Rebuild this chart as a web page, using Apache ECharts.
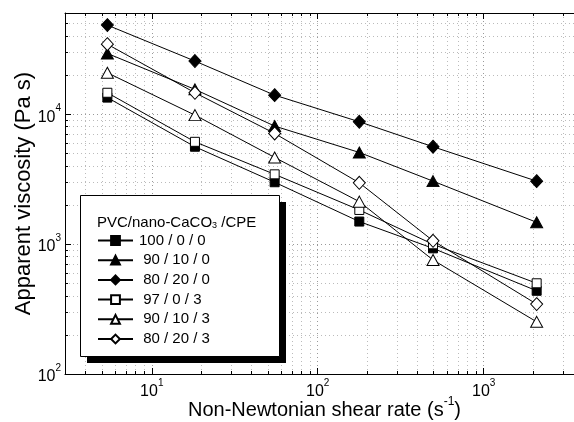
<!DOCTYPE html>
<html>
<head>
<meta charset="utf-8">
<script src="https://cdn.jsdelivr.net/npm/echarts@6/dist/echarts.min.js"></script>
<style>
  html, body { margin: 0; padding: 0; background: #fff; }
  #chart { width: 574px; height: 422px; }
</style>
</head>
<body>
<div id="chart"></div>
<script>
// shear rates (s^-1)
const shearRates = [5.4, 18.2, 55, 178, 495, 2085]
// apparent viscosity (Pa s)
const v100_0_0 = [13400, 5610, 2990, 1490, 927, 437]
const v90_10_0 = [29300, 15500, 8090, 5070, 3050, 1470]
const v80_20_0 = [48400, 25600, 14000, 8730, 5610, 3050]
const v97_0_3 = [14600, 6120, 3440, 1830, 996, 499]
const v90_10_3 = [20800, 9820, 4640, 2120, 754, 252]
const v80_20_3 = [34500, 14600, 7100, 2960, 1060, 345]
const seriesNames = ['100 / 0 / 0', ' 90 / 10 / 0', ' 80 / 20 / 0', ' 97 / 0 / 3', ' 90 / 10 / 3', ' 80 / 20 / 3']
const legendTitle = '{a|PVC/nano-CaCO}{s|3}{a| /CPE}'
// tick values
const xMajor = [10, 100, 1000]
const xMinor = [4, 5, 6, 7, 8, 9, 20, 30, 40, 50, 60, 70, 80, 90, 200, 300, 400, 500, 600, 700, 800, 900, 2000, 3000]
const yMajor = [100, 1000, 10000]
const yMinor = [200, 300, 400, 500, 600, 700, 800, 900, 2000, 3000, 4000, 5000, 6000, 7000, 8000, 9000, 20000, 30000, 40000, 50000]

const FONT = 'Liberation Sans, Arial, sans-serif'
const chart = echarts.init(document.getElementById('chart'))

const supLabel = (value) => '{b|10}{s|' + Math.round(Math.log10(value)) + '}'
const supRich = {
  b: { fontSize: 16, fontFamily: FONT, color: '#000', lineHeight: 22, verticalAlign: 'bottom' },
  s: { fontSize: 10, fontFamily: FONT, color: '#000', lineHeight: 10, verticalAlign: 'top' }
}
const majorGrid = { show: true, lineStyle: { color: '#999', type: [1, 3], width: 1 } }
const minorGrid = { show: true, lineStyle: { color: '#bbb', type: [1, 3], width: 1 } }

const makeSeries = (name, data, symbol, size, filled) => ({
  name: name,
  type: 'line',
  data: shearRates.map((x, i) => [x, data[i]]),
  symbol: symbol,
  symbolSize: size,
  showSymbol: true,
  lineStyle: { color: '#000', width: 1 },
  itemStyle: filled
    ? { color: '#000', borderColor: '#000', borderWidth: 1 }
    : { color: '#fff', borderColor: '#000', borderWidth: 1 },
  emphasis: { disabled: true },
  z: filled ? 3 : 4
})

const X_MIN = 3
const X_MAX = 3500
const Y_MIN = 100
const Y_MAX = 60000

const option = {
  animation: false,
  textStyle: { fontFamily: FONT },
  grid: { left: 65, top: 13, right: 0, bottom: 48, outerBoundsMode: 'none', containLabel: false },
  // legend frame with solid black drop shadow
  graphic: [
    { type: 'rect', z: 10, shape: { x: 87, y: 202, width: 199, height: 161 }, style: { fill: '#000' } },
    { type: 'rect', z: 11, shape: { x: 80.5, y: 195.5, width: 199, height: 161 }, style: { fill: '#fff', stroke: '#000', lineWidth: 1 } }
  ],
  title: {
    text: legendTitle,
    left: 97,
    top: 210,
    padding: 0,
    z: 13,
    textStyle: {
      rich: {
        a: { fontSize: 15, fontWeight: 'normal', fontFamily: FONT, color: '#000', lineHeight: 20, verticalAlign: 'bottom' },
        s: { fontSize: 9, fontWeight: 'normal', fontFamily: FONT, color: '#000', lineHeight: 9, verticalAlign: 'bottom' }
      }
    }
  },
  legend: {
    orient: 'vertical',
    left: 97,
    top: 233,
    padding: 0,
    z: 12,
    itemWidth: 35,
    itemHeight: 11,
    itemGap: 4.7,
    selectedMode: false,
    textStyle: { fontSize: 15, color: '#000', fontFamily: FONT, padding: [0, 0, 0, 1] },
    data: seriesNames
  },
  xAxis: [
    {
      type: 'log', min: X_MIN, max: X_MAX, position: 'bottom',
      name: '{n|Non-Newtonian shear rate (s}{s|-1}{n|)}',
      nameLocation: 'middle', nameGap: 22, nameMoveOverlap: false,
      nameTextStyle: {
        padding: [0, 0, 0, 10],
        rich: {
          n: { fontSize: 20, fontFamily: FONT, color: '#000', lineHeight: 24, verticalAlign: 'bottom' },
          s: { fontSize: 12, fontFamily: FONT, color: '#000', lineHeight: 12, verticalAlign: 'top' }
        }
      },
      axisLine: { lineStyle: { color: '#000', width: 1 } },
      axisTick: { inside: true, length: 6, customValues: xMajor, lineStyle: { color: '#000' } },
      axisLabel: { customValues: xMajor, formatter: supLabel, rich: supRich, margin: 4 },
      splitLine: majorGrid
    },
    {
      type: 'log', min: X_MIN, max: X_MAX, position: 'top',
      axisLine: { lineStyle: { color: '#000', width: 1 } },
      axisTick: { inside: true, length: 6, customValues: xMajor, lineStyle: { color: '#000' } },
      axisLabel: { show: false },
      splitLine: { show: false }
    },
    {
      type: 'log', min: X_MIN, max: X_MAX, position: 'bottom',
      axisLine: { show: false },
      axisTick: { inside: true, length: 3, customValues: xMinor, lineStyle: { color: '#000' } },
      axisLabel: { show: false },
      splitLine: minorGrid
    },
    {
      type: 'log', min: X_MIN, max: X_MAX, position: 'top',
      axisLine: { show: false },
      axisTick: { inside: true, length: 3, customValues: xMinor, lineStyle: { color: '#000' } },
      axisLabel: { show: false },
      splitLine: { show: false }
    }
  ],
  yAxis: [
    {
      type: 'log', min: Y_MIN, max: Y_MAX, position: 'left',
      name: 'Apparent viscosity (Pa s)',
      nameLocation: 'middle', nameGap: 30, nameMoveOverlap: false,
      nameTextStyle: { fontSize: 22, color: '#000', fontFamily: FONT },
      axisLine: { show: true, lineStyle: { color: '#000', width: 1 } },
      axisTick: { show: true, inside: true, length: 6, customValues: yMajor, lineStyle: { color: '#000' } },
      axisLabel: { customValues: yMajor, formatter: supLabel, rich: supRich, margin: 4 },
      splitLine: majorGrid
    },
    {
      type: 'log', min: Y_MIN, max: Y_MAX, position: 'right', offset: -509,
      axisLine: { show: false },
      axisTick: { show: true, inside: false, length: 3, customValues: yMinor, lineStyle: { color: '#000' } },
      axisLabel: { show: false },
      splitLine: minorGrid
    }
  ],
  series: [
    makeSeries(seriesNames[0], v100_0_0, 'rect', 9, true),
    makeSeries(seriesNames[1], v90_10_0, 'triangle', [12, 11], true),
    makeSeries(seriesNames[2], v80_20_0, 'diamond', [12, 13], true),
    makeSeries(seriesNames[3], v97_0_3, 'rect', 9, false),
    makeSeries(seriesNames[4], v90_10_3, 'triangle', [12, 11], false),
    makeSeries(seriesNames[5], v80_20_3, 'diamond', [12, 13], false)
  ]
}

chart.setOption(option)
</script>
</body>
</html>
